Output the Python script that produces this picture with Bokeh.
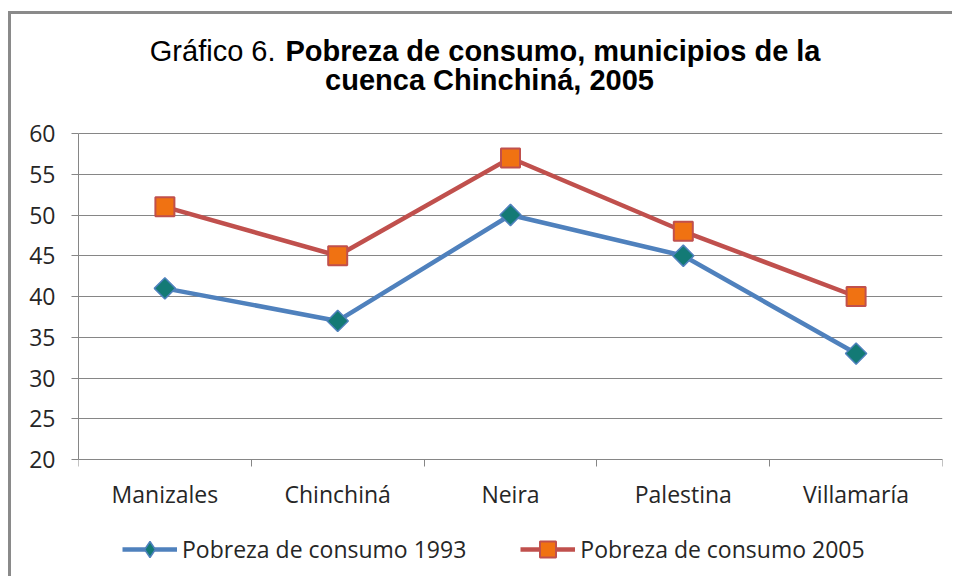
import numpy as np
from bokeh.plotting import figure
from bokeh.models import (Range1d, FixedTicker, Legend, LegendItem, Label,
                          LabelSet, ColumnDataSource)
from bokeh.core.properties import value
from bokeh.embed import file_html
from bokeh.resources import INLINE

# ---- data ----
categories = ["Manizales", "Chinchiná", "Neira", "Palestina", "Villamaría"]
pobreza_1993 = [41, 37, 50, 45, 33]
pobreza_2005 = [51, 45, 57, 48, 40]
y_ticks = [20, 25, 30, 35, 40, 45, 50, 55, 60]
series_labels = ["Pobreza de consumo 1993", "Pobreza de consumo 2005"]
title_normal = "Gráfico 6."
title_bold_1 = "Pobreza de consumo, municipios de la"
title_bold_2 = "cuenca Chinchiná, 2005"

n = len(categories)
x = np.arange(n) + 0.5
boundaries = list(range(n + 1))

GRID = "#868686"
TEXT = "#262626"
FONT = "Open Sans"
FS = "23px"
TFONT = "Liberation Sans"
TFS = "29px"

# layout (pixels): value axis 20..60 spans 326 px; free bands above (title)
# and below (category labels + legend) stay inside the frame
AXIS_PX = 326.0
TOP_PX = 113.0
BOTTOM_PX = 110.0
y_lo, y_hi = y_ticks[0], y_ticks[-1]
per_px = (y_hi - y_lo) / AXIS_PX
y_top = y_hi + TOP_PX * per_px
y_bottom = y_lo - BOTTOM_PX * per_px

p = figure(width=944, height=565,
           x_range=Range1d(0, n), y_range=Range1d(y_bottom, y_top),
           output_backend="svg", toolbar_location=None,
           min_border_left=67, min_border_right=13,
           min_border_top=6, min_border_bottom=10)
p.styles = {"border-left": "3px solid #8a8a8a", "border-top": "3px solid #8a8a8a",
            "margin-top": "11px", "margin-left": "8px"}
p.outline_line_color = None
p.background_fill_color = "white"
p.border_fill_color = "white"

# x axis drawn at y = 20: ticks at category boundaries, labels via LabelSet
p.xaxis.fixed_location = y_lo
p.xaxis.ticker = FixedTicker(ticks=list(x), minor_ticks=boundaries)
p.xaxis.major_label_overrides = {float(xi): "" for xi in x}
p.xaxis.major_label_text_font_size = "0px"
p.xaxis.major_label_standoff = 0
p.xaxis.major_tick_out = 0
p.xaxis.major_tick_in = 0
p.xaxis.minor_tick_out = 7
p.xaxis.minor_tick_in = 0
p.xaxis.minor_tick_line_color = GRID
p.xaxis.axis_line_color = GRID
p.xgrid.visible = False

cat_src = ColumnDataSource(dict(x=x, y=[y_lo] * n, text=categories))
p.add_layout(LabelSet(x="x", y="y", text="text", source=cat_src,
                      y_offset=-34, text_align="center", text_baseline="middle",
                      text_font=value(FONT), text_font_size=value(FS),
                      text_color=TEXT))

# y axis
p.yaxis.ticker = FixedTicker(ticks=y_ticks)
p.yaxis.bounds = (y_lo, y_hi)
p.yaxis.major_tick_out = 7
p.yaxis.major_tick_in = 0
p.yaxis.minor_tick_line_color = None
p.yaxis.major_tick_line_color = GRID
p.yaxis.axis_line_color = GRID
p.yaxis.major_label_standoff = 16
p.yaxis.major_label_text_font = FONT
p.yaxis.major_label_text_font_size = FS
p.yaxis.major_label_text_color = TEXT
p.ygrid.grid_line_color = GRID
p.ygrid.grid_line_width = 1

# series
C93_LINE, C93_FILL = "#4F81BD", "#137A75"
C05_LINE, C05_FILL = "#C0504D", "#F07212"
l1 = p.line(x, pobreza_1993, line_color=C93_LINE, line_width=4.5)
m1 = p.scatter(x, pobreza_1993, marker="square", angle=np.pi / 4, size=15,
               fill_color=C93_FILL, line_color=C93_LINE, line_width=1.5)
l2 = p.line(x, pobreza_2005, line_color=C05_LINE, line_width=4.5)
m2 = p.scatter(x, pobreza_2005, marker="square", size=19,
               fill_color=C05_FILL, line_color=C05_LINE, line_width=2)
# legend-only diamond swatch (hidden on the plot)
m1_key = p.scatter(x, pobreza_1993, marker="diamond", size=15,
                   fill_color=C93_FILL, line_color=C93_LINE, line_width=1.5,
                   visible=False)

legend = Legend(items=[LegendItem(label=series_labels[0], renderers=[l1, m1_key]),
                       LegendItem(label=series_labels[1], renderers=[l2, m2])],
                orientation="horizontal", location=(44, 0),
                glyph_width=55, glyph_height=40, label_standoff=5, spacing=54,
                padding=0, margin=0, border_line_color=None,
                background_fill_alpha=0, inactive_fill_alpha=0,
                label_text_font=FONT, label_text_font_size=FS,
                label_text_color=TEXT, label_height=40)
p.add_layout(legend)

# title (mixed weight), inside the frame's upper free band
p.add_layout(Label(x=197, y=519, x_units="screen", y_units="screen",
                   text=title_normal, text_align="right", text_baseline="alphabetic",
                   text_font=TFONT, text_font_size=TFS, text_color="black"))
p.add_layout(Label(x=207, y=519, x_units="screen", y_units="screen",
                   text=title_bold_1, text_align="left", text_baseline="alphabetic",
                   text_font=TFONT, text_font_size=TFS,
                   text_font_style="bold", text_color="black"))
p.add_layout(Label(x=411, y=490, x_units="screen", y_units="screen",
                   text=title_bold_2, text_align="center", text_baseline="alphabetic",
                   text_font=TFONT, text_font_size=TFS,
                   text_font_style="bold", text_color="black"))

open("out.html", "w").write(file_html(p, INLINE))
